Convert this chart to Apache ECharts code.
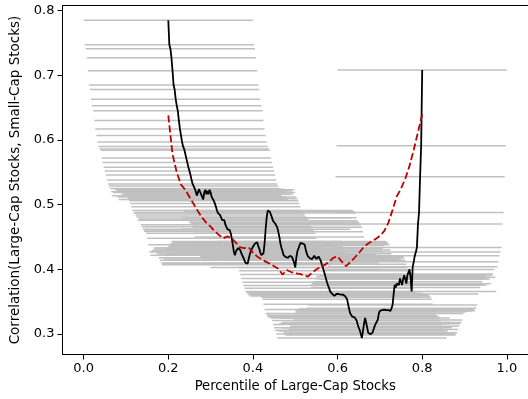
<!DOCTYPE html>
<html>
<head>
<meta charset="utf-8">
<script src="https://cdn.jsdelivr.net/npm/echarts@6/dist/echarts.min.js"></script>
<style>
  html, body { margin: 0; padding: 0; background: #fff; }
  #chart { width: 528px; height: 399px; }
</style>
</head>
<body>
<div id="chart"></div>
<script>
// Exceedance correlation between large-cap and small-cap stocks,
// evaluated on a percentile grid from 0.20 to 0.80.
const percentileStart = 0.2;
const percentileStep = 0.0025;

// Empirical exceedance correlation (one value per grid percentile)
const empiricalCorr = [
  0.785, 0.747, 0.741, 0.727, 0.707, 0.685, 0.678, 0.663, 0.653, 0.645,
  0.630, 0.617, 0.607, 0.597, 0.590, 0.586, 0.584, 0.572, 0.565, 0.558,
  0.552, 0.546, 0.538, 0.532, 0.529, 0.525, 0.520, 0.514, 0.519, 0.524,
  0.520, 0.522, 0.512, 0.508, 0.519, 0.523, 0.516, 0.521, 0.516, 0.523,
  0.519, 0.512, 0.509, 0.506, 0.502, 0.497, 0.491, 0.487, 0.488, 0.484,
  0.481, 0.476, 0.478, 0.476, 0.469, 0.466, 0.462, 0.459, 0.461, 0.456,
  0.448, 0.438, 0.427, 0.422, 0.428, 0.430, 0.433, 0.433, 0.430, 0.425,
  0.422, 0.418, 0.414, 0.410, 0.407, 0.409, 0.416, 0.423, 0.428, 0.431,
  0.435, 0.437, 0.440, 0.443, 0.442, 0.436, 0.432, 0.426, 0.422, 0.424,
  0.425, 0.440, 0.462, 0.480, 0.491, 0.490, 0.489, 0.487, 0.480, 0.475,
  0.473, 0.471, 0.469, 0.465, 0.458, 0.450, 0.440, 0.433, 0.428, 0.422,
  0.420, 0.419, 0.417, 0.418, 0.420, 0.421, 0.423, 0.419, 0.416, 0.410,
  0.403, 0.418, 0.428, 0.432, 0.437, 0.441, 0.443, 0.440, 0.441, 0.438,
  0.430, 0.424, 0.420, 0.418, 0.417, 0.418, 0.416, 0.419, 0.421, 0.418,
  0.416, 0.419, 0.420, 0.418, 0.414, 0.408, 0.403, 0.398, 0.392, 0.386,
  0.380, 0.375, 0.371, 0.366, 0.364, 0.362, 0.361, 0.359, 0.361, 0.362,
  0.363, 0.362, 0.361, 0.361, 0.360, 0.361, 0.360, 0.359, 0.357, 0.354,
  0.346, 0.338, 0.332, 0.329, 0.327, 0.328, 0.326, 0.325, 0.321, 0.315,
  0.310, 0.306, 0.300, 0.294, 0.305, 0.316, 0.325, 0.318, 0.310, 0.302,
  0.299, 0.300, 0.299, 0.302, 0.307, 0.312, 0.316, 0.318, 0.322, 0.332,
  0.336, 0.334, 0.337, 0.339, 0.338, 0.336, 0.337, 0.336, 0.337, 0.338,
  0.336, 0.340, 0.345, 0.362, 0.376, 0.372, 0.378, 0.381, 0.376, 0.386,
  0.389, 0.376, 0.385, 0.391, 0.385, 0.378, 0.391, 0.393, 0.400, 0.388,
  0.366, 0.404, 0.412, 0.421, 0.427, 0.434, 0.470, 0.488, 0.543, 0.591,
  0.708
];

// Each empirical value is also shown over its percentile window (+/- windowHalf)
const windowHalf = 0.2;

// Model-implied exceedance correlation
const modelPercentiles = [
  0.20, 0.21, 0.22, 0.23, 0.24, 0.25, 0.26, 0.27, 0.28, 0.29,
  0.30, 0.31, 0.32, 0.33, 0.34, 0.35, 0.36, 0.37, 0.38, 0.39,
  0.40, 0.41, 0.42, 0.43, 0.44, 0.45, 0.46, 0.47, 0.48, 0.49,
  0.50, 0.51, 0.52, 0.53, 0.54, 0.55, 0.56, 0.57, 0.58, 0.59,
  0.60, 0.61, 0.62, 0.63, 0.64, 0.65, 0.66, 0.67, 0.68, 0.69,
  0.70, 0.71, 0.72, 0.73, 0.74, 0.75, 0.76, 0.77, 0.78, 0.79,
  0.80
];
const modelCorr = [
  0.638, 0.578, 0.550, 0.531, 0.523, 0.512, 0.501, 0.490, 0.480, 0.472,
  0.466, 0.459, 0.453, 0.448, 0.451, 0.448, 0.441, 0.434, 0.433, 0.434,
  0.426, 0.420, 0.416, 0.412, 0.409, 0.405, 0.401, 0.392, 0.399, 0.396,
  0.394, 0.393, 0.391, 0.389, 0.395, 0.400, 0.404, 0.407, 0.412, 0.418,
  0.420, 0.412, 0.405, 0.411, 0.418, 0.425, 0.433, 0.439, 0.443, 0.447,
  0.452, 0.459, 0.472, 0.492, 0.513, 0.525, 0.540, 0.560, 0.585, 0.612,
  0.640
];

const xTicks = [0.0, 0.2, 0.4, 0.6, 0.8, 1.0];
const yTicks = [0.3, 0.4, 0.5, 0.6, 0.7, 0.8];
const xRange = [-0.05, 1.05];
const yRange = [0.2685, 0.8078];

const empiricalPoints = empiricalCorr.map((c, i) => [percentileStart + i * percentileStep, c]);
const windowSegments = empiricalPoints.map(([q, c]) => [q - windowHalf, q + windowHalf, c]);
const modelPoints = modelPercentiles.map((q, i) => [q, modelCorr[i]]);

const font = 'DejaVu Sans';
const spine = { show: true, onZero: false, lineStyle: { color: '#000', width: 1 } };
const chart = echarts.init(document.getElementById('chart'), null, { renderer: 'canvas' });

chart.setOption({
  animation: false,
  backgroundColor: '#fff',
  grid: { left: 62.5, top: 5.5, width: 468.3, height: 349 },
  xAxis: [
    {
      type: 'value', position: 'bottom', min: xRange[0], max: xRange[1],
      name: 'Percentile of Large-Cap Stocks',
      nameLocation: 'middle', nameGap: 25,
      nameTextStyle: { fontFamily: font, fontSize: 13.2, color: '#000' },
      axisLine: spine,
      splitLine: { show: false },
      axisTick: { show: true, length: 5, customValues: xTicks, lineStyle: { color: '#000', width: 1 } },
      axisLabel: {
        customValues: xTicks, margin: 8,
        fontFamily: font, fontSize: 13, color: '#000',
        formatter: v => v.toFixed(1)
      }
    },
    {
      // top frame line
      type: 'value', position: 'top', min: xRange[0], max: xRange[1],
      axisLine: spine,
      axisTick: { show: false },
      axisLabel: { show: false },
      splitLine: { show: false }
    }
  ],
  yAxis: {
    type: 'value', position: 'left', min: yRange[0], max: yRange[1],
    name: 'Correlation(Large-Cap Stocks, Small-Cap Stocks)',
    nameLocation: 'middle', nameGap: 33, nameRotate: 90,
    nameTextStyle: { fontFamily: font, fontSize: 13.5, color: '#000' },
    axisLine: spine,
    splitLine: { show: false },
    axisTick: { show: true, length: 5, customValues: yTicks, lineStyle: { color: '#000', width: 1 } },
    axisLabel: {
      customValues: yTicks, margin: 8,
      fontFamily: font, fontSize: 13, color: '#000',
      formatter: v => v.toFixed(1)
    }
  },
  series: [
    {
      type: 'custom',
      name: 'window',
      data: windowSegments,
      encode: { x: [0, 1], y: 2 },
      clip: true,
      z: 1,
      renderItem: (params, api) => {
        const a = api.coord([api.value(0), api.value(2)]);
        const b = api.coord([api.value(1), api.value(2)]);
        return {
          type: 'line',
          shape: { x1: a[0], y1: a[1], x2: b[0], y2: b[1] },
          style: { stroke: '#c0c0c0', lineWidth: 1.5 }
        };
      }
    },
    {
      type: 'line',
      name: 'empirical',
      data: empiricalPoints,
      showSymbol: false,
      z: 3,
      lineStyle: { color: '#000', width: 1.8 }
    },
    {
      type: 'line',
      name: 'model',
      data: modelPoints,
      showSymbol: false,
      z: 4,
      lineStyle: { color: '#c00000', width: 1.8, type: [7, 3] }
    }
  ]
});
</script>
</body>
</html>
